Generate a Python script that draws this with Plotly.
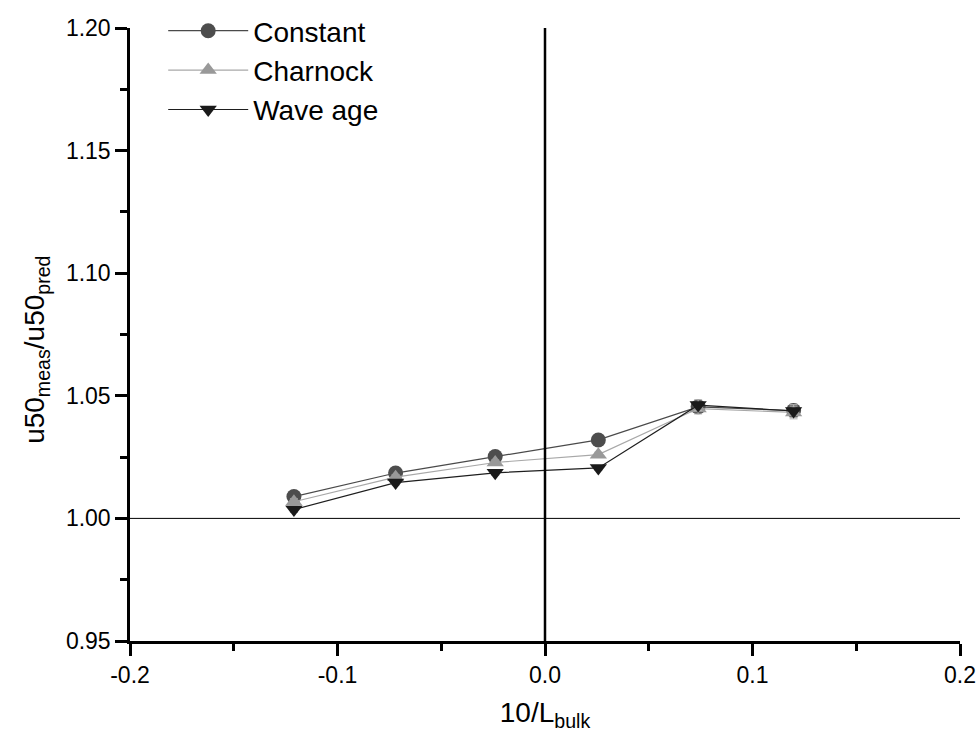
import plotly.graph_objects as go

# Stability parameter 10/L_bulk for each bin
x_vals = [-0.121, -0.072, -0.024, 0.0257, 0.0738, 0.1198]

# Ratio of measured to predicted 50 m wind speed, per roughness formulation
constant = [1.0089, 1.0185, 1.0252, 1.0320, 1.0455, 1.0440]
charnock = [1.0068, 1.0168, 1.0228, 1.0260, 1.0448, 1.0432]
wave_age = [1.0036, 1.0146, 1.0186, 1.0206, 1.0462, 1.0438]

# Standard errors of the ratios
constant_err = [0.0012, 0.0010, 0.0010, 0.0010, 0.0022, 0.0026]
charnock_err = [0.0012, 0.0010, 0.0010, 0.0010, 0.0022, 0.0026]
wave_age_err = [0.0012, 0.0010, 0.0010, 0.0010, 0.0022, 0.0026]

series_names = ["Constant", "Charnock", "Wave age"]
series_values = [constant, charnock, wave_age]
series_errors = [constant_err, charnock_err, wave_age_err]
line_colors = ["#4a4a4a", "#a8a8a8", "#1e1e1e"]
marker_colors = ["#4d4d4d", "#999999", "#1a1a1a"]
symbols = ["circle", "triangle-up", "triangle-down"]

# Axis ticks and their labels
x_ticks = [-0.2, -0.1, 0.0, 0.1, 0.2]
x_tick_labels = ["-0.2", "-0.1", "0.0", "0.1", "0.2"]
y_ticks = [0.95, 1.00, 1.05, 1.10, 1.15, 1.20]
y_tick_labels = ["0.95", "1.00", "1.05", "1.10", "1.15", "1.20"]

FONT = "Liberation Sans, Arial, sans-serif"

# Page geometry: a thin top margin keeps the legend inside the page, while
# the y-axis domain leaves headroom so the plot frame starts lower down.
W, H = 978, 743
M_L, M_R, M_T, M_B = 130, 18, 6, 102
PLOT_TOP = 28
y_domain_top = (H - M_B - PLOT_TOP) / (H - M_B - M_T)

fig = go.Figure()
for name, vals, errs, lc, mc, sym in zip(series_names, series_values, series_errors,
                                         line_colors, marker_colors, symbols):
    fig.add_trace(go.Scatter(
        x=x_vals, y=vals, name=name, mode="lines+markers",
        line=dict(color=lc, width=1.2),
        marker=dict(symbol=sym, size=15, color=mc, line=dict(width=0)),
        error_y=dict(type="data", array=errs, visible=True,
                     color="#b0b0b0", thickness=1, width=4),
    ))

# Reference lines at neutral stability and unit ratio
fig.add_shape(type="line", xref="x", yref="y domain", x0=0, x1=0, y0=0, y1=1,
              line=dict(color="black", width=2.5), layer="above")
fig.add_shape(type="line", xref="x domain", yref="y", x0=0, x1=1, y0=1.0, y1=1.0,
              line=dict(color="black", width=1), layer="below")

# Vertical axis title
fig.add_annotation(
    text="u50<sub>meas</sub>/u50<sub>pred</sub>",
    xref="x domain", yref="y domain", x=-0.112, y=0.475,
    xanchor="center", yanchor="middle", textangle=-90, showarrow=False,
    font=dict(size=28, family=FONT, color="black"),
)

fig.update_layout(
    width=W, height=H,
    margin=dict(l=M_L, r=M_R, t=M_T, b=M_B),
    paper_bgcolor="white", plot_bgcolor="white",
    font=dict(family=FONT, color="black"),
    showlegend=True,
    legend=dict(
        x=0.040, y=1.0, xanchor="left", yanchor="top",
        bgcolor="rgba(0,0,0,0)", font=dict(size=28, family=FONT),
        itemwidth=80, tracegroupgap=0,
    ),
    xaxis=dict(
        range=[-0.2, 0.2], tickvals=x_ticks, ticktext=x_tick_labels,
        automargin=False,
        showgrid=False, zeroline=False,
        showline=True, linecolor="black", linewidth=2.5,
        ticks="outside", ticklen=12, tickwidth=2.5, tickcolor="black",
        ticklabelstandoff=0,
        tickfont=dict(size=23, family=FONT),
        minor=dict(dtick=0.05, ticks="outside", ticklen=7, tickwidth=2.5,
                   tickcolor="black", showgrid=False),
        title=dict(text="10/L<sub>bulk</sub>", font=dict(size=28, family=FONT),
                   standoff=16),
    ),
    yaxis=dict(
        domain=[0, y_domain_top],
        range=[0.95, 1.20], tickvals=y_ticks, ticktext=y_tick_labels,
        automargin=False,
        showgrid=False, zeroline=False,
        showline=True, linecolor="black", linewidth=2.5,
        ticks="outside", ticklen=12, tickwidth=2.5, tickcolor="black",
        ticklabelstandoff=0,
        tickfont=dict(size=23, family=FONT),
        minor=dict(dtick=0.025, ticks="outside", ticklen=7, tickwidth=2.5,
                   tickcolor="black", showgrid=False),
    ),
)

fig.write_html("out.html")
